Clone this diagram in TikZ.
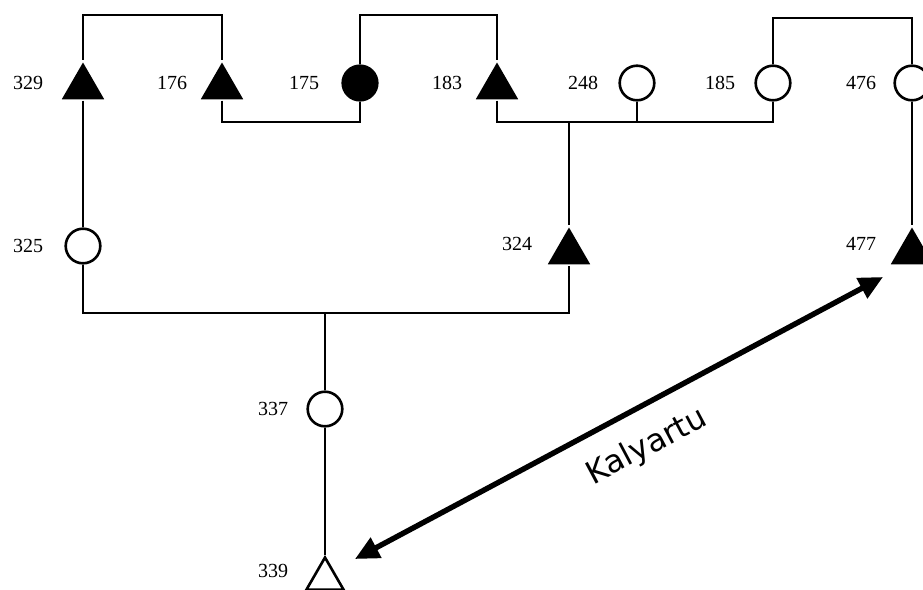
\documentclass[tikz,border=0pt]{standalone}
\usepackage{fontspec}
\setmainfont{Liberation Serif}
\newfontfamily\kalfont{DejaVu Sans}
\usetikzlibrary{shapes.geometric, arrows.meta}
\begin{document}
\begin{tikzpicture}[x=0.5pt, y=-0.5pt, line width=1.3pt,
  male/.style={regular polygon, regular polygon sides=3, minimum size=24.5pt, inner sep=0pt, fill=black},
  maleopen/.style={regular polygon, regular polygon sides=3, minimum size=21.5pt, inner sep=0pt, draw, fill=white},
  female/.style={circle, minimum size=17.3pt, inner sep=0pt, draw, fill=white},
  femalefill/.style={female, fill=black},
  lbl/.style={font=\fontsize{10}{12}\selectfont, inner sep=0pt},
  kinarrow/.style={line width=2.7pt, {Triangle[length=12pt,width=11pt]}-{Triangle[length=12pt,width=11pt]}}]
  \useasboundingbox (0,0) rectangle (923,590);
  % top generation
  \node[male] (t329) at (83,87) {};
  \node[male] (t176) at (222,87) {};
  \node[femalefill] (c175) at (360,83) {};
  \node[male] (t183) at (497,87) {};
  \node[female] (c248) at (637,83) {};
  \node[female] (c185) at (773,83) {};
  \node[female] (c476) at (912,83) {};
  % middle generation
  \node[female] (c325) at (83,246) {};
  \node[male] (t324) at (569,252) {};
  \node[male] (t477) at (912,252) {};
  % bottom
  \node[female] (c337) at (325,409) {};
  \node[maleopen] (t339) at (325,579) {};
  % numbers
  \foreach \lx/\ly/\lt in {28/83/329, 172/83/176, 304/83/175, 447/83/183, 583/83/248, 720/83/185, 861/83/476,
                           28/246/325, 517/244/324, 861/244/477, 273/409/337, 273/571/339}
    \node[lbl] (l\lt) at (\lx,\ly) {\lt};
  % marriages
  \coordinate (j1) at (152,15);
  \coordinate (j2) at (428,15);
  \coordinate (j3) at (842,18);
  \draw (t329.north) |- (j1) -| (t176.north);
  \draw (c175.north) |- (j2) -| (t183.north);
  \draw (c185.north) |- (j3) -| (c476.north);
  % siblings
  \coordinate (j4) at (291,122);
  \coordinate (j5) at (569,122);
  \draw (t176.south) |- (j4) -| (c175.south);
  \draw (t183.south) |- (j5) -| (c185.south);
  \draw (c248.south) -- (c248.south |- j5);
  \draw (j5) -- (t324.north);
  \draw (t329.south) -- (c325.north);
  \draw (c476.south) -- (t477.north);
  \coordinate (j6) at (325,313);
  \draw (c325.south) |- (j6) -| (t324.south);
  \draw (j6) -- (c337.north);
  \draw (c337.south) -- (t339.north);
  % kalyartu
  \coordinate (kA) at (355,559);
  \coordinate (kB) at (883,277);
  \draw[kinarrow] (kA) -- (kB);
  \node[font=\kalfont\fontsize{15.7}{18}\selectfont, rotate=28] (kal) at (647,447) {Kalyartu};
\end{tikzpicture}
\end{document}
